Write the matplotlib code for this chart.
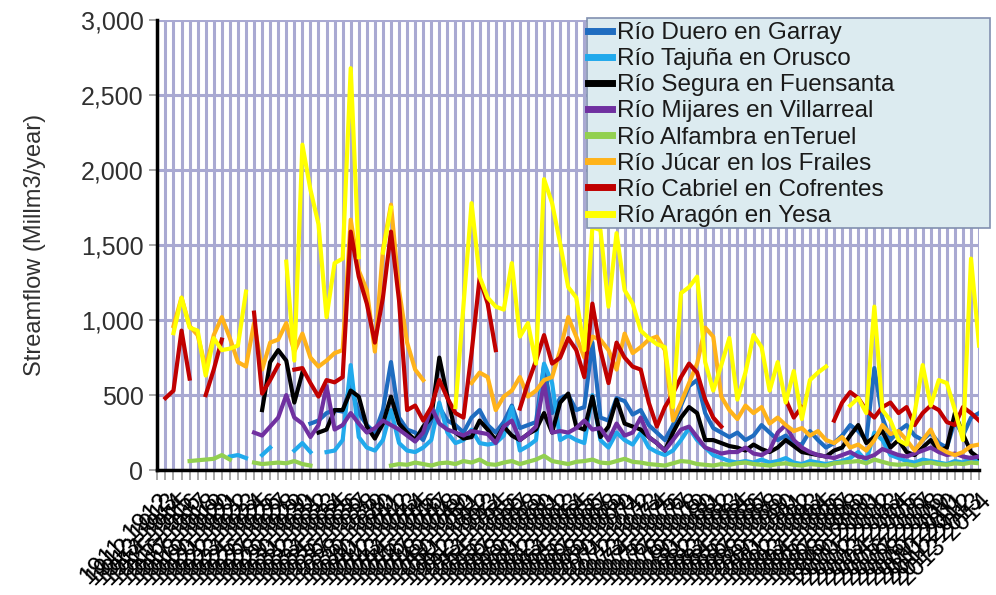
import numpy as np
import matplotlib.pyplot as plt
from matplotlib.patches import Rectangle

nan = np.nan

# hydrological years (103 of them)
years = list(range(1911, 2014))
year_labels = [str(y) + '-' + str(y + 1) for y in years]

series_names = ['Río Duero en Garray', 'Río Tajuña en Orusco', 'Río Segura en Fuensanta',
                'Río Mijares en Villarreal', 'Río Alfambra enTeruel', 'Río Júcar en los Frailes',
                'Río Cabriel en Cofrentes', 'Río Aragón en Yesa']
series_colors = ['#1f6cc0', '#21a9ec', '#000000', '#7030a0', '#92d050', '#ffb31a', '#c00000', '#ffff00']

duero = [nan] * 19 + [
    310, 330, 380, 400, 390, 560, 380, 300, 250, 400, 720,
    350, 270, 250, 200, 330, 420, 330, 300, 250, 350,
    400, 300, 250, 320, 430, 280, 300, 320, 700, 380,
    480, 500, 400, 420, 850, 350, 330, 480, 460, 370,
    400, 300, 250, 200, 300, 430, 560, 600, 380, 280,
    250, 220, 250, 200, 230, 300, 250, 200, 230, 180,
    170, 260, 200, 150, 180, 230, 300, 260, 200, 680,
    350, 200, 260, 300, 230, 200, 250, 180, 150, 330,
    230, 350, 380]

tajuna = [nan] * 9 + [
    90, 100, 80, nan, 100, 150, nan, nan, 130, 180, 120,
    nan, 120, 130, 200, 700, 220, 150, 130, 200, 400,
    180, 130, 120, 150, 200, 450, 250, 180, 200, 270,
    180, 170, 180, 230, 420, 130, 160, 200, 710, 580,
    200, 230, 200, 180, 500, 200, 150, 250, 200, 170,
    250, 150, 120, 100, 130, 200, 280, 200, 150, 100,
    80, 60, 50, 60, 50, 70, 50, 60, 80, 50,
    40, 60, 50, 40, 50, 60, 80, 120, 60, 250,
    200, 100, 80, 60, 50, 70, 60, 50, 40, 60,
    50, 80, 60]

segura = [nan] * 13 + [
    400, 720, 800, 730, 450, 650, nan,
    250, 270, 400, 400, 530, 490, 290, 210, 310, 490,
    310, 250, 200, 290, 350, 750, 490, 250, 210, 220,
    330, 270, 200, 290, 230, 200, 240, 270, 380, 250,
    450, 510, 290, 270, 490, 220, 290, 470, 310, 290,
    270, 220, 180, 130, 250, 350, 420, 380, 200, 200,
    180, 160, 150, 130, 170, 140, 120, 150, 200, 160,
    120, 110, 100, 90, 130, 150, 230, 300, 180, 220,
    260, 150, 200, 120, 100, 150, 200, 130, 150, 380,
    240, 120, 80]

mijares = [nan] * 12 + [
    250, 230, 290, 350, 500, 350, 310, 220,
    300, 560, 270, 300, 380, 310, 250, 280, 330, 300,
    270, 230, 190, 250, 420, 310, 270, 250, 230, 260,
    250, 240, 180, 290, 330, 200, 240, 290, 580, 250,
    260, 250, 280, 330, 270, 280, 200, 310, 230, 250,
    350, 220, 180, 130, 200, 270, 290, 220, 150, 130,
    110, 120, 120, 150, 110, 100, 130, 250, 300, 200,
    150, 120, 100, 90, 80, 100, 120, 90, 80, 100,
    140, 120, 100, 90, 110, 130, 150, 120, 100, 110,
    90, 80, 90]

alfambra = [nan] * 4 + [
    60, 65, 70, 75, 100, 70, nan, nan, 50, 40, 45, 50, 45, 60, 40, 30,
    nan, nan, nan, nan, nan, nan, nan, nan, nan, 30,
    40, 35, 50, 40, 30, 45, 50, 40, 60, 50,
    70, 40, 35, 50, 60, 40, 55, 70, 95, 60,
    50, 40, 55, 60, 70, 50, 45, 60, 75, 55,
    50, 40, 35, 30, 45, 60, 55, 40, 35, 30,
    40, 35, 45, 50, 40, 35, 30, 40, 45, 35,
    30, 40, 35, 30, 45, 50, 55, 60, 45, 70,
    55, 40, 35, 40, 30, 45, 50, 40, 35, 45,
    40, 50, 45]

jucar = [nan, nan,
    960, 1150, 960, 900, 680, 900, 1020, 880,
    720, 690, 980, 670, 850, 870, 980, 790, 910, 750,
    690, 730, 780, 800, 1670, 1330, 1200, 790, 1470, 1770,
    1200, 850, 670, 600, nan, nan, nan, nan, nan, 580,
    650, 620, 400, 490, 530, 620, 490, 530, 600, 620,
    800, 1020, 890, 750, 890, 870, 800, 670, 910, 780,
    820, 870, 890, 800, 330, 450, 580, 710, 950, 890,
    490, 400, 340, 430, 380, 420, 310, 350, 300, 260,
    280, 230, 260, 200, 180, 220, 150, 170, 130, 200,
    300, 240, 260, 200, 130, 200, 270, 150, 120, 100,
    120, 160, 170]

cabriel = [nan, 480, 530, 930, 610, nan, 500, 670, 870, nan,
    nan, nan, 1050, 510, 600, 700, nan, 670, 680, 580,
    490, 600, 585, 620, 1590, 1290, 1110, 850, 1150, 1590,
    1130, 400, 430, 330, 420, 600, 480, 380, 350, 780,
    1280, 1110, 800, nan, nan, 410, 580, 730, 900, 710,
    750, 880, 800, 620, 1110, 800, 580, 850, 750, 690,
    670, 450, 290, 420, 510, 620, 710, 650, 470, 350,
    290, nan, nan, nan, nan, nan, nan, nan, 470, 350,
    420, nan, nan, nan, 330, 450, 520, 480, 400, 350,
    420, 450, 380, 420, 300, 380, 430, 400, 320, 300,
    420, 380, 330]

aragon = [nan, nan, 913, 1150, 950, 930, 630, 880, 800, 810,
    830, 1190, nan, nan, nan, nan, 1390, 730, 2170, 1870,
    1640, 1020, 1380, 1410, 2680, 1420, nan, nan, 1450, 1750,
    nan, nan, nan, nan, nan, nan, nan, 420, 1100, 1780,
    1290, 1150, 1090, 1070, 1380, 890, 980, 710, 1940, 1780,
    1510, 1220, 1150, 800, 1620, 1600, 1090, 1580, 1200, 1110,
    930, 880, 840, 820, 420, 1180, 1220, 1290, 720, 530,
    700, 880, 470, 650, 900, 820, 530, 720, 450, 660,
    340, 600, 650, 690, nan, nan, 430, 480, 380, 1090,
    400, 330, 200, 170, 380, 700, 430, 600, 580, 400,
    200, 1410, 830]

all_series = [duero, tajuna, segura, mijares, alfambra, jucar, cabriel, aragon]
for s in all_series:
    assert len(s) == len(years), len(s)

plt.rcParams['font.family'] = ['Liberation Sans', 'DejaVu Sans']

fig = plt.figure(figsize=(9.96, 5.95), dpi=100)
ax = fig.add_axes([0.158, 0.21, 0.825, 0.756])

x_values = np.arange(len(years))
for values, name, color in zip(all_series, series_names, series_colors):
    ax.plot(x_values, values, '-', color=color, lw=3, label=name, solid_joinstyle='round')

ax.set_xlim(0, len(years) - 1)
ax.set_ylim(0, 3000)
ax.set_yticks(np.arange(0, 3001, 500))
ax.set_yticklabels(['{:,}'.format(v) for v in range(0, 3001, 500)], fontsize=18, color='#303030')
ax.set_xticks(x_values)
ax.set_xticklabels(year_labels, rotation=45, ha='right', rotation_mode='anchor', fontsize=18)
ax.tick_params(axis='x', length=7, width=1.2, color='#999999', pad=6)
ax.tick_params(axis='y', length=6, width=1.2, color='#999999', pad=4)

ax.set_axisbelow(True)
ax.grid(True, axis='both', color='#a9a9d2', lw=2.2)
for side in ['top', 'right']:
    ax.spines[side].set_visible(False)
for side in ['left', 'bottom']:
    ax.spines[side].set_linewidth(2.5)
    ax.spines[side].set_color('black')

ax.set_ylabel('Streamflow (Millm3/year)', fontsize=17, color='#303030')
ax.yaxis.set_label_coords(-0.135, 0.5)

# legend box is smaller than its content, like the original
box = Rectangle((587 / 996, 1 - 228 / 595), 403 / 996, 210 / 595, transform=fig.transFigure,
                facecolor='#dcebf0', edgecolor='#8290b0', lw=1.2, zorder=4, clip_on=False)
ax.add_artist(box)
leg = ax.legend(loc='upper left', bbox_to_anchor=(588 / 996, 1 - 22 / 595),
                bbox_transform=fig.transFigure, frameon=False, fontsize=17.5,
                labelspacing=0.17, handlelength=1.0, handletextpad=0.2, borderpad=0,
                borderaxespad=0)
for line in leg.get_lines():
    line.set_linewidth(5)
for t in leg.get_texts():
    t.set_color('#1a1a1a')
leg.set_zorder(5)

plt.savefig('out.png', dpi=100)
